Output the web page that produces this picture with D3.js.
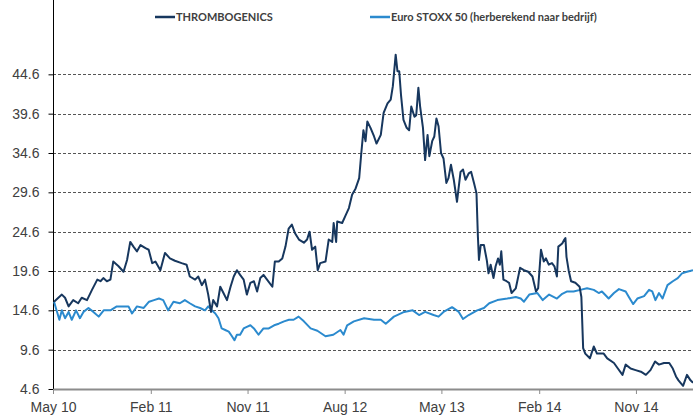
<!DOCTYPE html>
<html>
<head>
<meta charset="utf-8">
<script src="https://cdn.jsdelivr.net/npm/d3@7"></script>
<style>
  html, body { margin: 0; padding: 0; background: #fff; }
  svg { display: block; font-family: Lato, 'Open Sans', sans-serif; }
</style>
</head>
<body>
<div id="graph"></div>
<script>
const SERIES_NAMES = ['THROMBOGENICS', 'Euro STOXX 50 (herberekend naar bedrijf)']

const thrombDates = [
  '2010-05-04','2010-05-26','2010-06-04','2010-06-14','2010-06-27','2010-07-11','2010-07-21','2010-08-05','2010-08-19','2010-09-03',
  '2010-09-12','2010-09-20','2010-09-30','2010-10-10','2010-10-18','2010-11-02','2010-11-16','2010-11-26','2010-12-05','2010-12-14',
  '2010-12-24','2011-01-03','2011-01-17','2011-01-26','2011-02-05','2011-02-14','2011-02-28','2011-03-13','2011-03-27','2011-04-10',
  '2011-04-29','2011-05-13','2011-05-22','2011-06-06','2011-06-15','2011-06-25','2011-07-04','2011-07-13','2011-07-21','2011-07-27',
  '2011-08-07','2011-08-16','2011-08-25','2011-09-04','2011-09-14','2011-09-23','2011-10-02','2011-10-11','2011-10-21','2011-10-30',
  '2011-11-09','2011-11-19','2011-11-28','2011-12-07','2011-12-16','2011-12-26','2012-01-10','2012-01-17','2012-01-28','2012-02-07',
  '2012-02-16','2012-02-25','2012-03-05','2012-03-14','2012-03-25','2012-04-08','2012-04-17','2012-04-24','2012-05-01','2012-05-10',
  '2012-05-17','2012-05-24','2012-06-08','2012-06-17','2012-06-27','2012-07-01','2012-07-08','2012-07-11','2012-07-25','2012-08-04',
  '2012-08-13','2012-08-22','2012-09-01','2012-09-11','2012-09-17','2012-09-23','2012-09-29','2012-10-04','2012-10-13','2012-10-23',
  '2012-10-30','2012-11-11','2012-11-19','2012-11-30','2012-12-09','2012-12-15','2012-12-23','2012-12-28','2013-01-02','2013-01-07',
  '2013-01-14','2013-01-23','2013-01-30','2013-02-05','2013-02-14','2013-02-19','2013-02-25','2013-03-02','2013-03-10','2013-03-16',
  '2013-03-23','2013-03-28','2013-04-05','2013-04-11','2013-04-17','2013-04-23','2013-04-30','2013-05-07','2013-05-15','2013-05-21',
  '2013-05-28','2013-06-05','2013-06-14','2013-06-24','2013-07-01','2013-07-08','2013-07-17','2013-07-24','2013-08-01','2013-08-08',
  '2013-08-12','2013-08-15','2013-08-20','2013-08-29','2013-09-06','2013-09-11','2013-09-17','2013-09-25','2013-10-01','2013-10-08',
  '2013-10-13','2013-10-17','2013-10-23','2013-11-01','2013-11-08','2013-11-15','2013-11-27','2013-12-09','2013-12-20','2014-01-01',
  '2014-01-13','2014-01-23','2014-01-29','2014-02-06','2014-02-14','2014-02-20','2014-02-28','2014-03-09','2014-03-16','2014-03-23',
  '2014-03-27','2014-04-07','2014-04-13','2014-04-16','2014-04-19','2014-04-25','2014-05-02','2014-05-14','2014-05-26','2014-05-31',
  '2014-06-05','2014-06-11','2014-06-24','2014-07-05','2014-07-14','2014-08-02','2014-08-12','2014-08-31','2014-09-11','2014-09-24',
  '2014-10-03','2014-10-17','2014-10-31','2014-11-15','2014-11-29','2014-12-12','2014-12-25','2015-01-05','2015-01-19','2015-02-03',
  '2015-02-13','2015-02-22','2015-03-01','2015-03-14','2015-03-25','2015-04-04','2015-04-11'
]
const thrombValues = [
  15.7,16.6,16.2,15.1,15.9,15.5,16.2,15.9,17.2,18.5,
  18.3,18.7,18.3,18.5,20.8,20.2,19.5,21.0,23.3,22.7,
  22.1,22.9,22.5,22.3,20.6,20.8,19.7,21.9,21.2,20.9,
  20.6,20.4,18.9,18.5,18.9,17.8,18.5,16.6,14.4,15.9,
  15.1,17.6,16.8,15.9,17.6,18.9,19.7,19.1,18.5,16.6,
  18.1,18.3,17.0,18.7,19.1,18.5,17.6,20.8,20.8,21.2,
  22.7,25.0,25.5,24.4,23.6,23.2,23.6,24.6,22.3,22.7,
  19.7,20.6,20.8,23.6,23.3,25.7,23.3,25.9,25.7,26.7,
  27.6,29.3,30.1,31.4,34.6,37.5,36.1,38.6,37.8,36.7,
  35.8,36.9,39.7,40.9,41.4,43.1,47.1,45.0,45.0,42.0,
  38.8,37.8,37.5,40.5,39.2,39.4,42.9,40.5,37.8,33.7,
  36.9,34.2,36.1,36.7,39.0,38.0,34.6,33.9,30.8,31.4,
  33.1,31.2,28.4,32.2,32.5,31.2,32.0,32.2,30.8,29.5,
  24.0,21.0,22.9,22.9,21.0,19.3,20.4,18.7,20.2,21.2,
  20.4,22.1,18.5,18.3,18.1,16.8,17.4,20.0,19.7,19.5,
  18.9,17.0,17.4,22.3,20.8,21.2,20.4,20.6,20.2,18.9,
  22.7,23.1,23.6,23.8,21.4,19.7,18.3,18.1,17.6,16.3,
  9.8,9.1,8.5,10.0,9.1,9.1,8.5,7.9,7.2,6.4,
  7.7,7.2,7.0,6.8,6.4,7.0,8.1,7.7,7.9,7.9,
  7.2,6.2,5.7,5.0,6.4,5.7,5.4
]

const stoxxDates = [
  '2010-05-04','2010-05-11','2010-05-19','2010-05-26','2010-06-04','2010-06-14','2010-06-23','2010-07-05','2010-07-16','2010-07-26',
  '2010-08-09','2010-08-23','2010-09-07','2010-09-21','2010-10-10','2010-10-28','2010-11-16','2010-11-30','2010-12-10','2010-12-24',
  '2011-01-12','2011-01-27','2011-02-10','2011-02-24','2011-03-08','2011-03-22','2011-04-06','2011-04-24','2011-05-08','2011-05-22',
  '2011-06-06','2011-06-20','2011-07-04','2011-07-13','2011-07-23','2011-08-02','2011-08-11','2011-08-20','2011-08-30','2011-09-09',
  '2011-09-18','2011-09-25','2011-10-02','2011-10-11','2011-10-21','2011-10-30','2011-11-09','2011-11-19','2011-12-02','2011-12-16',
  '2011-12-31','2012-01-15','2012-01-28','2012-02-12','2012-02-26','2012-03-10','2012-03-24','2012-04-08','2012-04-27','2012-05-16',
  '2012-06-08','2012-06-30','2012-07-20','2012-07-29','2012-08-08','2012-08-27','2012-09-25','2012-10-23','2012-11-11','2012-11-25',
  '2012-12-18','2013-01-16','2013-02-09','2013-02-27','2013-03-16','2013-04-09','2013-04-23','2013-05-07','2013-05-31','2013-06-19',
  '2013-07-01','2013-07-17','2013-08-10','2013-08-29','2013-09-13','2013-10-06','2013-11-03','2013-11-27','2013-12-11','2013-12-20',
  '2014-01-04','2014-01-27','2014-02-11','2014-03-01','2014-03-23','2014-04-07','2014-04-21','2014-05-09','2014-05-28','2014-06-16',
  '2014-07-05','2014-07-19','2014-07-28','2014-08-16','2014-08-31','2014-09-14','2014-10-03','2014-10-12','2014-10-24','2014-11-05',
  '2014-11-24','2014-12-08','2014-12-17','2014-12-26','2015-01-05','2015-01-15','2015-01-29','2015-02-13','2015-02-27','2015-03-11',
  '2015-03-25','2015-04-11'
]
const stoxxValues = [
  15.7,14.6,13.4,14.6,13.6,14.4,13.4,14.6,13.6,14.4,
  14.9,14.4,13.8,14.6,14.6,15.1,15.1,15.1,14.2,15.1,
  14.9,15.7,15.9,16.1,15.9,14.6,15.7,15.5,15.9,15.5,
  15.1,14.9,14.6,15.1,14.6,14.2,13.6,12.3,12.1,11.9,
  11.3,10.8,11.5,11.5,12.3,12.5,12.7,12.3,11.5,12.3,
  12.3,12.7,12.9,13.2,13.4,13.4,13.8,13.2,12.3,12.0,
  11.3,11.5,12.1,11.5,12.7,13.2,13.6,13.4,13.4,12.9,
  13.8,14.4,14.6,14.0,14.4,14.0,13.8,14.4,15.0,14.4,
  13.5,14.0,14.6,14.9,15.5,15.9,16.1,16.3,16.1,15.7,
  16.6,16.8,15.9,16.6,16.1,16.7,17.0,17.0,17.2,17.4,
  17.2,16.8,17.0,16.1,16.8,17.3,17.0,16.3,15.4,16.1,
  16.4,17.2,17.0,15.9,16.8,16.1,17.8,18.3,18.7,19.3,
  19.5,19.7
]

const yTickValues = [4.6, 9.6, 14.6, 19.6, 24.6, 29.6, 34.6, 39.6, 44.6]
const xTickDates = ['2010-05-01', '2011-02-01', '2011-11-01', '2012-08-01', '2013-05-01', '2014-02-01', '2014-11-01']
const xDomainDates = ['2010-05-01', '2015-04-11']

const COLORS = Object.freeze({
  THROMB: '#17375e',
  STOXX: '#2b8ace',
  TEXT: '#404040',
  GRID: '#555555',
  XAXIS: '#8c8c8c'
})
const SIZE = Object.freeze({ WIDTH: 693, HEIGHT: 416 })
const PLOT = Object.freeze({ LEFT: 53, RIGHT: 693, TOP: 35, BOTTOM: 389 })

const parseDate = d3.timeParse('%Y-%m-%d'),
      formatTick = d3.timeFormat('%b %y')

const buildSeries = (dates, values) => dates.map((d, i) => ({ date: parseDate(d), value: values[i] }))

const series = [
  { name: SERIES_NAMES[0], color: COLORS.THROMB, data: buildSeries(thrombDates, thrombValues) },
  { name: SERIES_NAMES[1], color: COLORS.STOXX, data: buildSeries(stoxxDates, stoxxValues) }
]

const xScale = d3.scaleTime()
  .domain(xDomainDates.map(parseDate))
  .range([PLOT.LEFT, PLOT.RIGHT])

const yScale = d3.scaleLinear()
  .domain([4.6, 49.6])
  .range([PLOT.BOTTOM, PLOT.TOP])

const svg = d3.select('#graph')
  .append('svg')
  .attr('width', SIZE.WIDTH)
  .attr('height', SIZE.HEIGHT)

// dashed gridlines (skip the baseline)
svg.append('g')
  .selectAll('line')
  .data(yTickValues.slice(1))
  .enter()
  .append('line')
  .attr('x1', PLOT.LEFT)
  .attr('x2', PLOT.RIGHT)
  .attr('y1', d => Math.round(yScale(d)) + 0.5)
  .attr('y2', d => Math.round(yScale(d)) + 0.5)
  .attr('stroke', COLORS.GRID)
  .attr('stroke-width', 1)
  .attr('stroke-dasharray', '3,2')

const yAxis = d3.axisLeft(yScale)
  .tickValues(yTickValues)
  .tickSize(5)
  .tickPadding(9)
  .tickFormat(d3.format('.1f'))

const yAxisG = svg.append('g')
  .attr('transform', `translate(${PLOT.LEFT + 0.5},0)`)
  .call(yAxis)
yAxisG.select('.domain').remove()
yAxisG.append('line')
  .attr('x1', 0).attr('x2', 0)
  .attr('y1', PLOT.TOP - 35)
  .attr('y2', PLOT.BOTTOM)
  .attr('stroke', '#000')
yAxisG.selectAll('.tick line').attr('stroke', '#000')
yAxisG.selectAll('.tick text')
  .attr('fill', COLORS.TEXT)
  .style('font-size', '14px')

const xAxis = d3.axisBottom(xScale)
  .tickValues(xTickDates.map(parseDate))
  .tickSize(5)
  .tickSizeOuter(0)
  .tickPadding(8)
  .tickFormat(formatTick)

const xAxisG = svg.append('g')
  .attr('transform', `translate(0,${PLOT.BOTTOM})`)
  .call(xAxis)
xAxisG.select('.domain')
  .attr('stroke', COLORS.XAXIS)
  .attr('stroke-width', 2)
xAxisG.selectAll('.tick line').attr('stroke', COLORS.XAXIS)
xAxisG.selectAll('.tick text')
  .attr('fill', COLORS.TEXT)
  .style('font-size', '14px')

const line = d3.line()
  .x(d => xScale(d.date))
  .y(d => yScale(d.value))
  .curve(d3.curveLinear)

svg.append('g')
  .selectAll('path')
  .data(series.slice().reverse())
  .enter()
  .append('path')
  .attr('d', d => line(d.data))
  .attr('fill', 'none')
  .attr('stroke', d => d.color)
  .attr('stroke-width', 2)
  .attr('stroke-linejoin', 'round')

// legend
const legendX = [155, 370]
const legend = svg.append('g')
legend.selectAll('line')
  .data(series)
  .enter()
  .append('line')
  .attr('x1', (d, i) => legendX[i])
  .attr('x2', (d, i) => legendX[i] + 20)
  .attr('y1', 17)
  .attr('y2', 17)
  .attr('stroke', d => d.color)
  .attr('stroke-width', 2.5)
legend.selectAll('text')
  .data(series)
  .enter()
  .append('text')
  .attr('x', (d, i) => legendX[i] + 21)
  .attr('y', 21)
  .style('font-size', '11px')
  .style('font-weight', 'bold')
  .attr('fill', COLORS.TEXT)
  .text(d => d.name)
</script>
</body>
</html>
